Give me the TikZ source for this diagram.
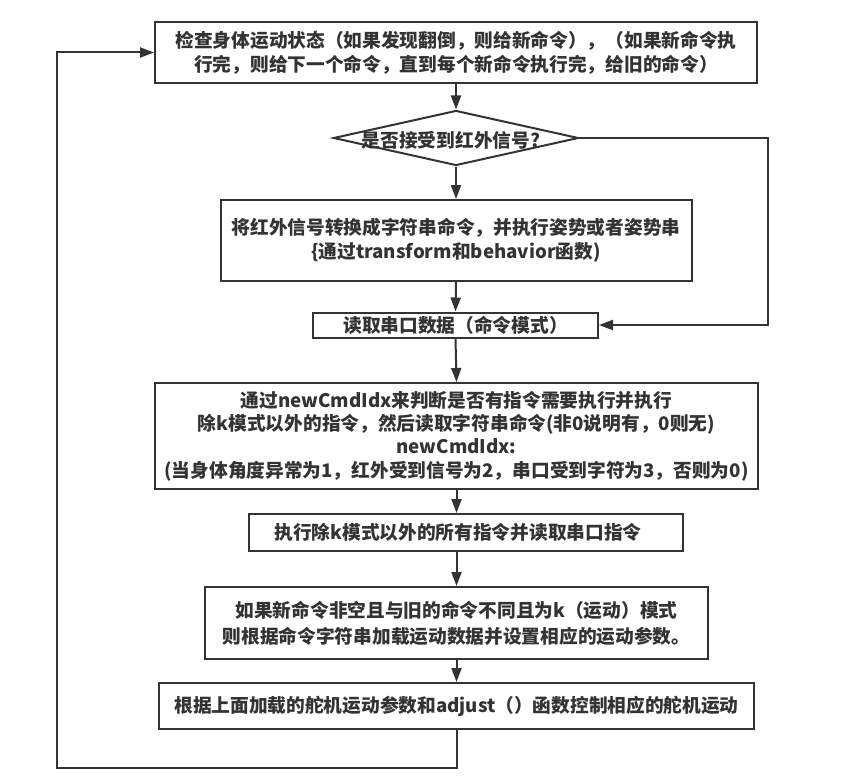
\documentclass[tikz,border=0pt]{standalone}
\usepackage{fontspec}
\setmainfont{Noto Sans CJK SC}
\usetikzlibrary{arrows.meta,shapes.geometric}
\definecolor{ln}{HTML}{333333}
\definecolor{tx}{HTML}{333333}
\begin{document}
\begin{tikzpicture}[x=1pt,y=-1pt,
  txt/.style={font=\fontsize{18.7}{24}\selectfont\bfseries,text=tx,align=center},
  box/.style={txt,draw=ln,line width=2pt,rectangle,inner sep=0pt},
  arr/.style={draw=ln,line width=2pt,-{Triangle[length=14pt,width=10pt]}}]
\useasboundingbox (0,0) rectangle (850,781);
\fill[white] (0,0) rectangle (850,781);

\node[box,minimum width=602pt,minimum height=61pt] (b1) at (456,52.5)
  {检查身体运动状态（如果发现翻倒，则给新命令），（如果新命令执\\行完，则给下一个命令，直到每个新命令执行完，给旧的命令）};
\node[diamond,draw=ln,line width=2pt,minimum width=245pt,minimum height=55pt,inner sep=0pt,aspect=4.45] (d) at (456,138) {};
\node[txt] (dt) at (451,140) {是否接受到红外信号?};
\node[box,minimum width=471pt,minimum height=81pt] (b2) at (456,240.5)
  {将红外信号转换成字符串命令，并执行姿势或者姿势串\\\{通过transform和behavior函数)};
\node[box,minimum width=285pt,minimum height=25pt] (b4) at (455.5,325)
  {读取串口数据（命令模式）};
\node[box,minimum width=603pt,minimum height=106pt,font=\fontsize{18.7}{23.3}\selectfont\bfseries] (b5) at (456.5,436)
  {通过newCmdIdx来判断是否有指令需要执行并执行\\除k模式以外的指令，然后读取字符串命令(非0说明有，0则无)\\newCmdIdx:\\(当身体角度异常为1，红外受到信号为2，串口受到字符为3，否则为0)};
\node[box,minimum width=434pt,minimum height=37pt] (b6) at (466,532.5)
  {执行除k模式以外的所有指令并读取串口指令\hspace*{16pt}};
\node[box,minimum width=503pt,minimum height=72pt,font=\fontsize{18.7}{26}\selectfont\bfseries] (b7) at (456.5,623)
  {如果新命令非空且与旧的命令不同且为k（运动）模式\\则根据命令字符串加载运动数据并设置相应的运动参数。};
\node[box,minimum width=595pt,minimum height=46pt] (b8) at (456.5,706)
  {根据上面加载的舵机运动参数和adjust（）函数控制相应的舵机运动};

\coordinate (rc) at (768,325);
\coordinate (lb) at (57,768);

\draw[arr] (b1.south) -- (d.north);
\draw[arr] (d.south) -- (b2.north);
\draw[arr] (b2.south) -- (b4.north);
\draw[arr] (d.east) -| (rc) -- (b4.east);
\draw[arr] (b4.south) -- (b5.north);
\draw[arr] (b5.south) -- (b5.south |- b6.north);
\draw[arr] (b7.north |- b6.south) -- (b7.north);
\draw[arr] (b7.south) -- (b8.north);
\draw[arr] (b8.south) |- (lb) |- (b1.west);
\end{tikzpicture}
\end{document}
